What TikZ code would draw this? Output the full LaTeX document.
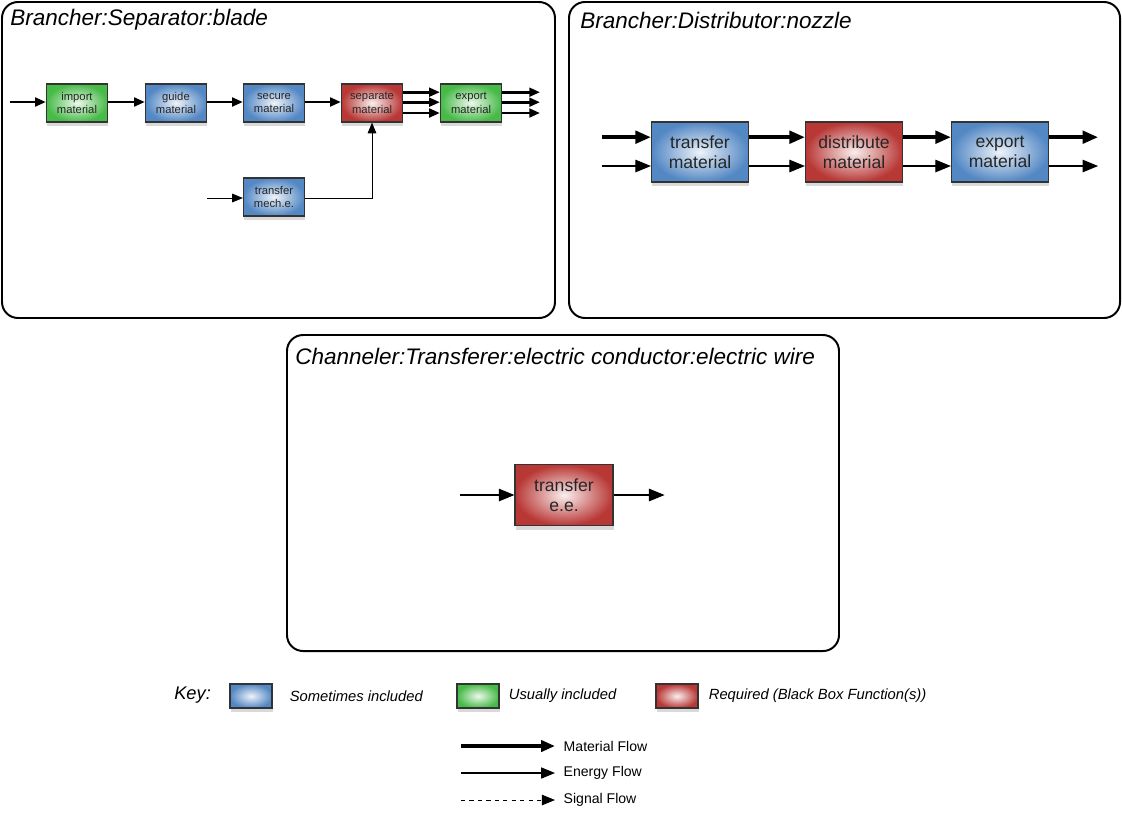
\documentclass[tikz,border=0pt]{standalone}
\usepackage{fontspec}
\setmainfont{Liberation Sans}
\usetikzlibrary{positioning, shadows, arrows.meta}
\definecolor{sblue}{RGB}{84,136,196}
\definecolor{ugreen}{RGB}{72,186,72}
\definecolor{rred}{RGB}{184,56,54}

\begin{document}
\begin{tikzpicture}[x=0.025cm, y=-0.025cm]
        \tikzset{matflow/.style = {-{Triangle[length=3mm,width=2.4mm,scale=#1]}, line width=2pt}, matflow/.default=1}
        \tikzset{enflow/.style = {-{Triangle[length=3mm,width=2.4mm,scale=#1]}, line width=0.7pt}, enflow/.default=1}
        \tikzset{sigflow/.style = {enflow=1.1, dashed}}
        \tikzset{func/.style = {draw=black!80, line width=0.8pt, shading=radial, align=center, text=black!85, inner sep=1pt,
                drop shadow={shadow xshift=0.6pt, shadow yshift=-3pt, opacity=0.3}}}
        \tikzset{sometimes/.style = {func, inner color=sblue!10!white, outer color=sblue}}
        \tikzset{usually/.style = {func, inner color=ugreen!10!white, outer color=ugreen}}
        \tikzset{required/.style = {func, inner color=rred!8!white, outer color=rred}}
        \tikzset{small/.style = {minimum width=1.525cm, minimum height=0.95cm, font=\fontsize{8}{9.5}\selectfont}}
        \tikzset{big/.style = {minimum width=2.425cm, minimum height=1.5cm, font=\fontsize{12.5}{14.5}\selectfont}}
        \tikzset{keybox/.style = {minimum width=1.05cm, minimum height=0.6cm}}
        \tikzset{panel/.style = {draw, line width=1.4pt, rounded corners=0.4cm}}
        \tikzset{title/.style = {anchor=west, inner sep=0pt, font=\fontsize{16}{19}\selectfont\itshape}}
        \tikzset{keytext/.style = {anchor=west, inner sep=0pt, font=\fontsize{10.5}{12}\selectfont\itshape}}
        \tikzset{flowtext/.style = {anchor=west, inner sep=0pt, inner xsep=6pt, font=\fontsize{10}{12}\selectfont}}

        \useasboundingbox (0,0) rectangle (1122,812);

        % panels
        \draw[panel] (2,2) rectangle (555,318);
        \draw[panel] (569,2) rectangle (1120,318);
        \draw[panel] (287,335) rectangle (839,651);
        \node[title] (t1) at (10,20) {Brancher:Separator:blade};
        \node[title] (t2) at (580,20) {Brancher:Distributor:nozzle};
        \node[title] (t3) at (295,356) {Channeler:Transferer:electric conductor:electric wire};

        % blade
        \node[usually, small] (imp) at (77,103) {import\\material};
        \node[sometimes, small] (guide) at (176,103) {guide\\material};
        \node[sometimes, small] (sec) at (274,103) {secure\\material};
        \node[required, small] (sep) at (372,103) {separate\\material};
        \node[usually, small] (exp) at (471,103) {export\\material};
        \node[sometimes, small] (mech) at (274,197) {transfer\\mech.e.};
        \coordinate (impin) at (10,102);
        \coordinate (mechin) at (207,198);
        \draw[matflow=0.9] (impin) -- (imp.west |- impin);
        \draw[matflow=0.9] (imp.east |- impin) -- (guide.west |- impin);
        \draw[matflow=0.9] (guide.east |- impin) -- (sec.west |- impin);
        \draw[matflow=0.9] (sec.east |- impin) -- (sep.west |- impin);
        \foreach \dy in {0.27,0.02,-0.25} {
            \draw[matflow=0.9] ([yshift=\dy cm]sep.east) -- ([yshift=\dy cm]exp.west);
            \draw[matflow=0.9] ([yshift=\dy cm]exp.east) -- ([yshift=\dy cm, xshift=0.95cm]exp.east);
        }
        \draw[enflow=0.9] (mechin) -- (mech.west |- mechin);
        \draw[enflow=0.9] (mech.east |- mechin) -| (sep.south);

        % nozzle
        \node[sometimes, big] (tm) at (700,152) {transfer\\material};
        \node[required, big] (dm) at (854,152) {distribute\\material};
        \node[sometimes, big] (em) at (1000,152) {export\\material};
        \draw[matflow=1.3, line width=2.6pt] ([yshift=0.37cm, xshift=-1.225cm]tm.west) -- ([yshift=0.37cm]tm.west);
        \draw[enflow=1.3, line width=0.9pt] ([yshift=-0.35cm, xshift=-1.225cm]tm.west) -- ([yshift=-0.35cm]tm.west);
        \draw[matflow=1.3, line width=2.6pt] ([yshift=0.37cm]tm.east) -- ([yshift=0.37cm]dm.west);
        \draw[enflow=1.3, line width=0.9pt] ([yshift=-0.35cm]tm.east) -- ([yshift=-0.35cm]dm.west);
        \draw[matflow=1.3, line width=2.6pt] ([yshift=0.37cm]dm.east) -- ([yshift=0.37cm]em.west);
        \draw[enflow=1.3, line width=0.9pt] ([yshift=-0.35cm]dm.east) -- ([yshift=-0.35cm]em.west);
        \draw[matflow=1.3, line width=2.6pt] ([yshift=0.37cm]em.east) -- ([yshift=0.37cm, xshift=1.225cm]em.east);
        \draw[enflow=1.3, line width=0.9pt] ([yshift=-0.35cm]em.east) -- ([yshift=-0.35cm, xshift=1.225cm]em.east);

        % electric wire
        \node[required, big, minimum width=2.45cm, minimum height=1.525cm] (te) at (564,495) {transfer\\e.e.};
        \draw[enflow=1.3, line width=0.9pt] ([xshift=-1.35cm]te.west) -- (te.west);
        \draw[enflow=1.3, line width=0.9pt] (te.east) -- ([xshift=1.275cm]te.east);

        % key
        \node[anchor=west, inner sep=0pt, font=\fontsize{13}{15}\selectfont\itshape] (key) at (174,695) {Key:};
        \node[sometimes, keybox] (kb) at (251,696) {};
        \node[keytext, right=0.425cm of kb] (kbt) {Sometimes included};
        \node[usually, keybox] (kg) at (478,696) {};
        \node[keytext, right=0.225cm of kg] (kgt) {Usually included};
        \node[required, keybox] (kr) at (677,696) {};
        \node[keytext, right=0.25cm of kr] (krt) {Required (Black Box Function(s))};

        \coordinate (mf) at (461,746);
        \coordinate (ef) at (461,773);
        \coordinate (sf) at (461,800);
        \node[flowtext] (mft) at (555,746) {Material Flow};
        \node[flowtext] (eft) at (555,773) {Energy Flow};
        \node[flowtext] (sft) at (555,800) {Signal Flow};
        \draw[matflow=1.15, line width=2.6pt] (mf) -- (mft.west);
        \draw[enflow=1.15, line width=0.9pt] (ef) -- (eft.west);
        \draw[sigflow] (sf) -- (sft.west);
\end{tikzpicture}
\end{document}
